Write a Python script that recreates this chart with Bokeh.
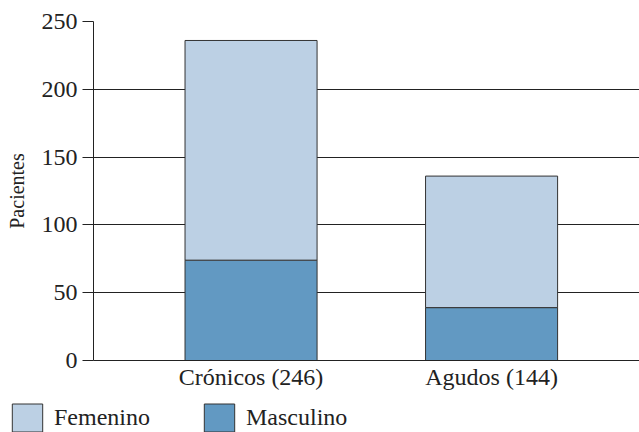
from bokeh.plotting import figure
from bokeh.layouts import column
from bokeh.models import (ColumnDataSource, Range1d, FixedTicker, Legend, LegendItem)
from bokeh.embed import file_html
from bokeh.resources import INLINE

# Data
categories = ["Crónicos (246)", "Agudos (144)"]
x_pos = [1, 2]
masculino = [74, 39]
femenino = [162, 97]
y_ticks = [0, 50, 100, 150, 200, 250]
legend_labels = ["Femenino", "Masculino"]

COLOR_FEM = "#BCD0E4"
COLOR_MAS = "#6299C2"
FONT = "Liberation Serif"
INK = "#222222"
EDGE = "#333333"

source = ColumnDataSource(dict(x=x_pos, Masculino=masculino, Femenino=femenino))

p = figure(width=639, height=392, output_backend="svg", toolbar_location=None,
           x_range=Range1d(0.345, 2.615), y_range=Range1d(0, 250),
           min_border_left=93, min_border_right=0, min_border_top=21,
           min_border_bottom=32, frame_align=False)

renderers = p.vbar_stack(["Masculino", "Femenino"], x="x", width=0.549,
                         source=source, color=[COLOR_MAS, COLOR_FEM],
                         line_color=EDGE, line_width=1)

p.outline_line_color = None
p.xgrid.grid_line_color = None
p.ygrid.grid_line_color = INK
p.ygrid.grid_line_width = 1
p.ygrid.ticker = FixedTicker(ticks=y_ticks)

# Y axis
p.yaxis.ticker = FixedTicker(ticks=y_ticks)
p.yaxis.axis_label = "Pacientes"
p.yaxis.axis_label_text_font = FONT
p.yaxis.axis_label_text_font_style = "normal"
p.yaxis.axis_label_text_font_size = "20px"
p.yaxis.axis_label_text_color = INK
p.yaxis.axis_label_standoff = 11
p.yaxis.major_label_text_font = FONT
p.yaxis.major_label_text_font_size = "24px"
p.yaxis.major_label_text_color = INK
p.yaxis.major_label_standoff = 5
p.yaxis.major_tick_out = 11
p.yaxis.major_tick_in = 0
p.yaxis.minor_tick_line_color = None
p.yaxis.axis_line_color = INK
p.yaxis.major_tick_line_color = INK

# X axis
p.xaxis.ticker = FixedTicker(ticks=x_pos)
p.xaxis.major_label_overrides = {x: c for x, c in zip(x_pos, categories)}
p.xaxis.major_label_text_font = FONT
p.xaxis.major_label_text_font_size = "24px"
p.xaxis.major_label_text_color = INK
p.xaxis.major_label_standoff = 3
p.xaxis.major_tick_out = 0
p.xaxis.major_tick_in = 0
p.xaxis.major_tick_line_color = None
p.xaxis.minor_tick_line_color = None
p.xaxis.axis_line_color = INK

# Legend strip (separate figure so it can sit left of the plot frame).
# Its glyphs share the data source but its range keeps them out of view,
# so only the legend swatches show.
lg = figure(width=639, height=40, output_backend="svg", toolbar_location=None,
            x_range=Range1d(-11, -10), y_range=Range1d(0, 1),
            x_axis_type=None, y_axis_type=None, min_border=0,
            frame_align=False)
lg.outline_line_color = None
lg.grid.grid_line_color = None
r_fem = lg.vbar(x="x", top="Femenino", width=0.5, source=source,
                fill_color=COLOR_FEM, line_color=EDGE, line_width=1)
r_mas = lg.vbar(x="x", top="Masculino", width=0.5, source=source,
                fill_color=COLOR_MAS, line_color=EDGE, line_width=1)

legend = Legend(items=[LegendItem(label=legend_labels[0], renderers=[r_fem]),
                       LegendItem(label=legend_labels[1], renderers=[r_mas])],
                orientation="horizontal", location="top_left",
                glyph_width=38, glyph_height=35, label_standoff=8,
                spacing=50, padding=0, margin=8,
                label_text_font=FONT, label_text_font_size="24px",
                label_text_color=INK,
                border_line_color=None, background_fill_alpha=0)
lg.add_layout(legend, "center")

layout = column(p, lg, spacing=0)

open("out.html", "w").write(file_html(layout, INLINE))
